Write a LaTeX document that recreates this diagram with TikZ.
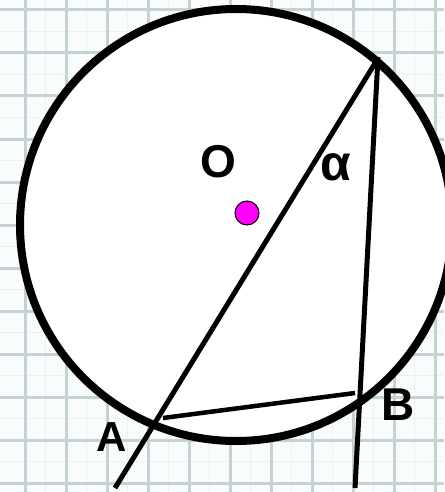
\documentclass[tikz,border=0pt]{standalone}
\usepackage{fontspec}
\setmainfont{Liberation Sans}
\definecolor{bgc}{RGB}{249,252,252}
\definecolor{gridc}{RGB}{196,210,210}
\definecolor{gridm}{RGB}{235,241,241}
\definecolor{dotc}{RGB}{255,0,255}
\begin{document}
\begin{tikzpicture}[x=1pt,y=-1pt,
  gridmajor/.style={draw=gridc, line width=3pt},
  gridminor/.style={draw=gridm, line width=1.2pt},
  rim/.style={draw=black, fill=white, line width=8pt},
  ray/.style={draw=black, line width=5pt, line cap=butt},
  chord/.style={draw=black, line width=4.5pt},
  lbl/.style={inner sep=0pt, text=black, font=\fontsize{46}{46}\selectfont\bfseries},
  dot/.style={draw=black, fill=dotc, line width=1pt}]
\fill[bgc] (0,0) rectangle (444,492);
\useasboundingbox (0,0) rectangle (444,492);
\foreach \k in {0,...,10} {
  \draw[gridminor] ({45.5+41*\k},0) -- ({45.5+41*\k},492);
}
\foreach \k in {0,...,11} {
  \draw[gridminor] (0,{31.5+43*\k}) -- (444,{31.5+43*\k});
}
\foreach \k in {0,...,10} {
  \draw[gridmajor] ({25+41*\k},0) -- ({25+41*\k},492);
}
\foreach \k in {0,...,11} {
  \draw[gridmajor] (0,{10+43*\k}) -- (444,{10+43*\k});
}
% circle
\coordinate (ctr) at (236,225);
\draw[rim] (ctr) circle [radius=216];
% points
\coordinate (C) at (377,60);
\coordinate (Ctop) at (378,57);
\coordinate (Aend) at (115,488);
\coordinate (Bend) at (355,488);
\coordinate (Ach) at (163,418);
\coordinate (Bch) at (355,393);
\draw[ray] (Aend) -- (C);
\draw[ray] (Ctop) -- (Bend);
\draw[chord] (Ach) -- (Bch);
% centre dot
\node[dot, circle, minimum size=24pt, inner sep=0pt] (dotO) at (247,213) {};
% labels
\node[lbl] (labO) at (218,162) {O};
\node[lbl, font=\fontsize{50}{50}\selectfont\bfseries] (labalpha) at (336,167) {α};
\node[lbl] (labB) at (398,405) {B};
\node[lbl, font=\fontsize{42}{42}\selectfont\bfseries] (labA) at (112,437) {A};
\end{tikzpicture}
\end{document}
